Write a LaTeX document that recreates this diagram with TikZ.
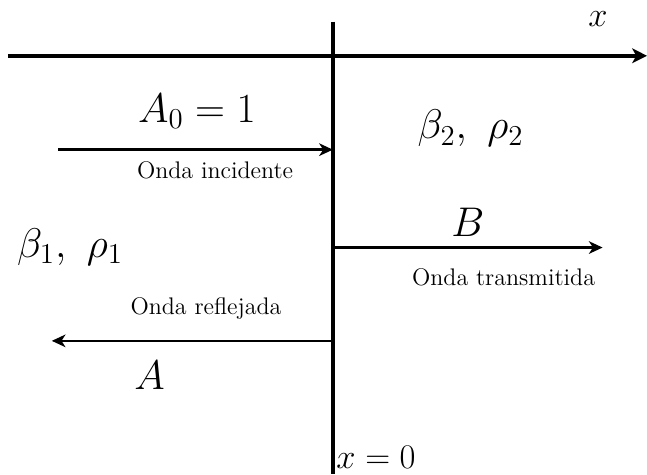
\documentclass[tikz,border=0pt]{standalone}
\usepackage{amsmath,amssymb}
\usetikzlibrary{arrows.meta,positioning}
\tikzset{
  axisline/.style={line width=2pt},
  arr/.style={-{Stealth[length=2.4mm, width=2.2mm, inset=0.7mm]}, line width=1.2pt},
  lab/.style={font=\large, inner sep=1pt},
  sym/.style={font=\huge, inner sep=1pt},
  medium/.style={font=\fontsize{22.5}{27}\selectfont, inner sep=1pt},
}
\begin{document}
\begin{tikzpicture}
  \useasboundingbox (-5.85,0.98) rectangle (5.52,-7.35);
  % axes and interface
  \coordinate (O) at (0,0);
  \coordinate (xl) at (-5.71,0);
  \coordinate (xr) at (5.52,0);
  \coordinate (top) at (0,0.60);
  \coordinate (bot) at (0,-7.35);
  \draw[axisline, -{Stealth[length=2.6mm, width=2.6mm, inset=0.7mm]}] (xl) -- (xr);
  \draw[axisline] (top) -- (bot);
  \node[font=\LARGE] (xlab) at (4.66,0.65) {$x$};
  \node[font=\LARGE, inner sep=1pt, anchor=west] (x0) at (0.02,-7.05) {$x=0$};
  % media
  \node[medium] (med2) at (2.42,-1.28) {$\beta_2,\ \rho_2$};
  \node[medium] (med1) at (-4.62,-3.36) {$\beta_1,\ \rho_1$};
  % incident wave
  \coordinate (inc) at (-4.83,-1.65);
  \draw[arr] (inc) -- (inc -| O);
  \node[sym] (a0) at (-2.39,-0.97) {$A_0=1$};
  \node[lab] (inclab) at (-2.07,-2.02) {Onda incidente};
  % transmitted wave
  \coordinate (tr) at (4.74,-3.37);
  \draw[arr] (tr -| O) -- (tr);
  \node[sym] (b) at (2.37,-2.92) {$B$};
  \node[lab] (trlab) at (3.00,-3.90) {Onda transmitida};
  % reflected wave
  \coordinate (re) at (-4.94,-5.01);
  \draw[arr] (re -| O) -- (re);
  \node[lab] (relab) at (-2.23,-4.45) {Onda reflejada};
  \node[sym] (a) at (-3.22,-5.61) {$A$};
\end{tikzpicture}
\end{document}
